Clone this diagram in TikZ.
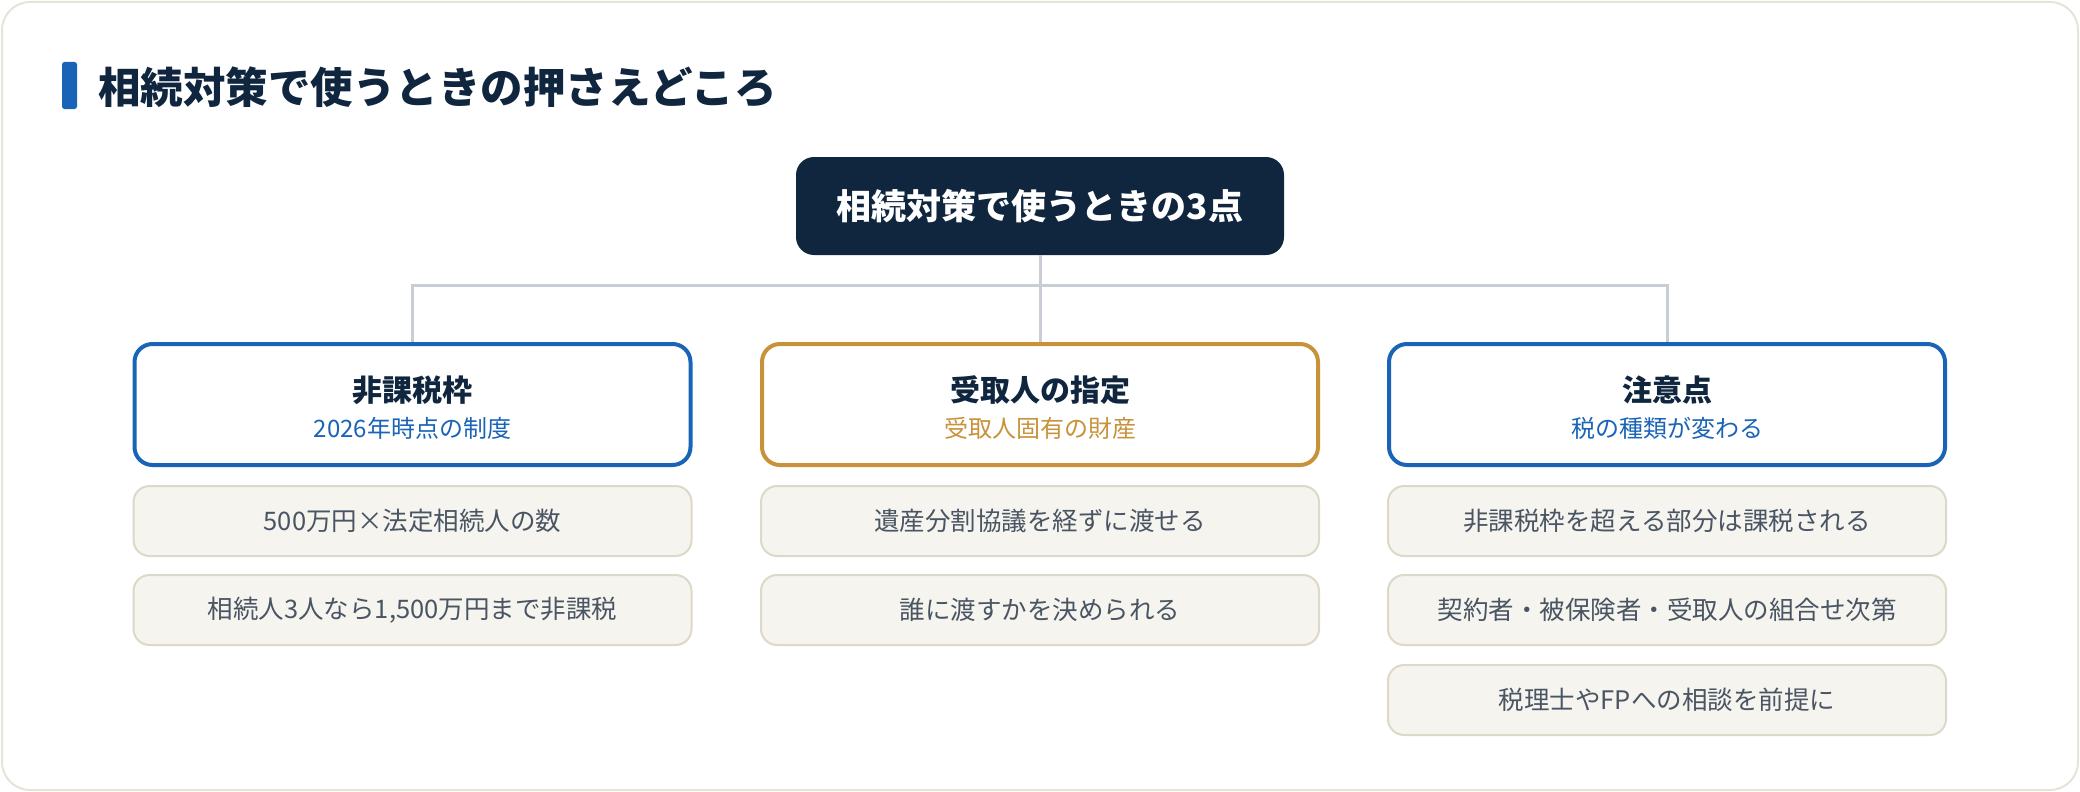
\documentclass[tikz,border=0pt]{standalone}
\usepackage{fontspec}
\setmainfont{Noto Sans CJK JP}
\definecolor{navy}{HTML}{10263F}
\definecolor{tblue}{HTML}{1A64B8}
\definecolor{gold}{HTML}{C8923A}
\definecolor{conn}{HTML}{C8CDD6}
\definecolor{itemfill}{HTML}{F5F4EF}
\definecolor{itemdraw}{HTML}{DCD9C8}
\definecolor{itemtext}{HTML}{4A5563}
\definecolor{cardborder}{HTML}{E6E4D8}
\tikzset{
  headbox/.style={draw=#1, line width=4pt, fill=white, rounded corners=18pt, minimum width=556pt, minimum height=121pt, inner sep=0pt},
  headtitle/.style={font=\bfseries\fontsize{30}{36}\selectfont, text=navy, inner sep=0pt},
  headsub/.style={font=\fontsize{24}{28}\selectfont, text=#1, inner sep=0pt},
  itembox/.style={draw=itemdraw, line width=2pt, fill=itemfill, rounded corners=16pt, minimum width=558pt, minimum height=70pt, inner sep=0pt, text=itemtext, font=\fontsize{25.5}{30}\selectfont},
  connline/.style={draw=conn, line width=3pt},
}
\begin{document}
\begin{tikzpicture}[x=1pt,y=-1pt]
\useasboundingbox (0,0) rectangle (2080,792);
\draw[fill=white, draw=cardborder, line width=2pt, rounded corners=28pt] (2,2) rectangle (2078,790);
\fill[tblue, rounded corners=2.5pt] (62,62) rectangle (77,109);
\node[anchor=west, font=\bfseries\fontsize{42.5}{50}\selectfont, text=navy, inner sep=0pt] (title) at (98,87) {相続対策で使うときの押さえどころ};

\node[fill=navy, rounded corners=18pt, minimum width=488pt, minimum height=98pt, text=white, font=\bfseries\fontsize{35}{42}\selectfont] (top) at (1040,206) {相続対策で使うときの3点};

\coordinate (j) at (1040,285);
\node[headbox=tblue] (h1) at (412.5,404.5) {};
\node[headbox=gold] (h2) at (1040,404.5) {};
\node[headbox=tblue] (h3) at (1667,404.5) {};

\draw[connline] (top.south) -- (j);
\draw[connline] (j) -- (h2.north);
\draw[connline] (h1.north) -- (h1.north |- j) -- (h3.north |- j) -- (h3.north);

\node[headtitle] (t1) at ([yshift=14.5pt]h1.center) {非課税枠};
\node[headsub=tblue] (s1) at ([yshift=-23.5pt]h1.center) {2026年時点の制度};
\node[headtitle] (t2) at ([yshift=14.5pt]h2.center) {受取人の指定};
\node[headsub=gold] (s2) at ([yshift=-23.5pt]h2.center) {受取人固有の財産};
\node[headtitle] (t3) at ([yshift=14.5pt]h3.center) {注意点};
\node[headsub=tblue] (s3) at ([yshift=-23.5pt]h3.center) {税の種類が変わる};

\node[itembox] (a1) at (412.5,521) {500万円×法定相続人の数};
\node[itembox] (a2) at (412.5,610) {相続人3人なら1,500万円まで非課税};
\node[itembox] (b1) at (1040,521) {遺産分割協議を経ずに渡せる};
\node[itembox] (b2) at (1040,610) {誰に渡すかを決められる};
\node[itembox] (c1) at (1667,521) {非課税枠を超える部分は課税される};
\node[itembox] (c2) at (1667,610) {契約者・被保険者・受取人の組合せ次第};
\node[itembox] (c3) at (1667,700) {税理士やFPへの相談を前提に};
\end{tikzpicture}
\end{document}
